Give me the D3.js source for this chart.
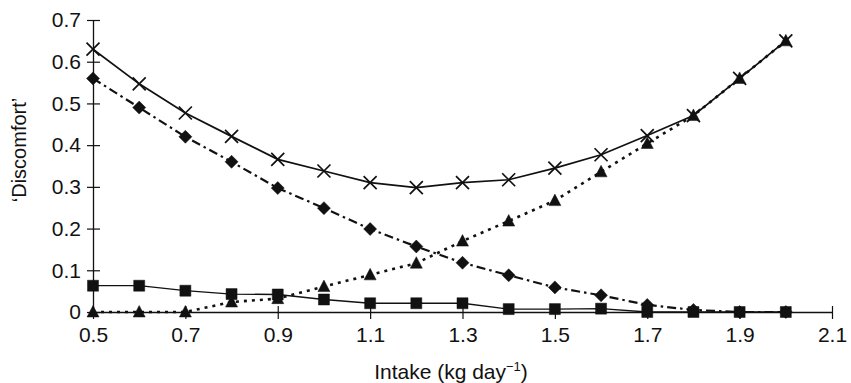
<!DOCTYPE html>
<html>
<head>
<meta charset="utf-8">
<script src="https://cdn.jsdelivr.net/npm/d3@7"></script>
<style>
  html, body { margin: 0; padding: 0; background: #fff; }
  svg { display: block; }
  text { font-family: "Liberation Sans", Arial, sans-serif; fill: #111; }
</style>
</head>
<body>
<svg id="chart" width="851" height="383"></svg>
<script>
// Intake levels (kg per day)
const intake = [0.5, 0.6, 0.7, 0.8, 0.9, 1.0, 1.1, 1.2, 1.3, 1.4, 1.5, 1.6, 1.7, 1.8, 1.9, 2.0];

// Discomfort components
const totalDiscomfort = [0.63, 0.547, 0.477, 0.421, 0.366, 0.338, 0.31, 0.298, 0.31, 0.317, 0.345, 0.377, 0.423, 0.471, 0.56, 0.65];
const hungerDiscomfort = [0.56, 0.49, 0.42, 0.36, 0.297, 0.249, 0.199, 0.157, 0.118, 0.088, 0.059, 0.04, 0.017, 0.005, 0, 0];
const satietyDiscomfort = [0, 0, 0, 0.024, 0.032, 0.061, 0.089, 0.117, 0.17, 0.218, 0.267, 0.336, 0.404, 0.471, 0.56, 0.65];
const otherDiscomfort = [0.063, 0.063, 0.051, 0.043, 0.042, 0.03, 0.021, 0.021, 0.021, 0.007, 0.007, 0.008, 0, 0, 0, 0];

// Axis ticks
const xTicks = [0.5, 0.7, 0.9, 1.1, 1.3, 1.5, 1.7, 1.9, 2.1];
const yTicks = [0, 0.1, 0.2, 0.3, 0.4, 0.5, 0.6, 0.7];

const svg = d3.select("#chart");

const x = d3.scaleLinear().domain([0.5, 2.1]).range([93, 832]);
const y = d3.scaleLinear().domain([0, 0.7]).range([312, 20]);

// Axes
const xAxis = d3.axisBottom(x)
  .tickValues(xTicks)
  .tickFormat(d3.format(".1f"))
  .tickSizeInner(7)
  .tickSizeOuter(0)
  .tickPadding(8);
const yAxis = d3.axisLeft(y)
  .tickValues(yTicks)
  .tickFormat(d => d === 0 ? "0" : d3.format(".1f")(d))
  .tickSizeInner(6)
  .tickSizeOuter(0)
  .tickPadding(6);

const gx = svg.append("g").attr("transform", `translate(0,${y(0)})`).call(xAxis);
const gy = svg.append("g").attr("transform", `translate(${x(0.5)},0)`).call(yAxis);

[gx, gy].forEach(g => {
  g.attr("font-size", 21);
  g.select(".domain").attr("stroke", "#111").attr("stroke-width", 1.3);
  g.selectAll(".tick line").attr("stroke", "#111").attr("stroke-width", 1.2);
  g.selectAll(".tick text")
    .attr("font-size", 21)
    .attr("fill", "#111")
    .style("font-family", "'Liberation Sans', Arial, sans-serif");
});
// y ticks cross the axis line
gy.selectAll(".tick line").attr("x1", 7);
// x ticks extend slightly above the axis line
gx.selectAll(".tick line").attr("y1", -6);

// Axis titles
const xTitle = svg.append("text")
  .attr("x", 451)
  .attr("y", 379)
  .attr("text-anchor", "middle")
  .attr("font-size", 21);
xTitle.append("tspan").text("Intake (kg day");
xTitle.append("tspan").attr("font-size", 13).attr("dy", -8).text("\u22121");
xTitle.append("tspan").attr("dy", 8).text(")");

svg.append("text")
  .attr("transform", "translate(26,150) rotate(-90)")
  .attr("text-anchor", "middle")
  .attr("font-size", 20)
  .text("\u2018Discomfort\u2019");

// Series lines
const line = d3.line().x(d => x(d[0])).y(d => y(d[1]));
const pts = vals => intake.map((v, i) => [v, vals[i]]);

const series = [
  { vals: otherDiscomfort, dash: null, width: 1.3, marker: "square" },
  { vals: hungerDiscomfort, dash: "9,4,2.5,4", width: 2.2, marker: "diamond" },
  { vals: satietyDiscomfort, dash: "3,5", width: 2.6, marker: "triangle" },
  { vals: totalDiscomfort, dash: null, width: 1.7, marker: "cross" }
];

series.forEach(s => {
  svg.append("path")
    .datum(pts(s.vals))
    .attr("d", line)
    .attr("fill", "none")
    .attr("stroke", "#111")
    .attr("stroke-width", s.width)
    .attr("stroke-dasharray", s.dash);
});

// Markers
const markerPath = {
  square: "M-5.5,-5.5H5.5V5.5H-5.5Z",
  diamond: "M0,-6.5L6.5,0L0,6.5L-6.5,0Z",
  triangle: "M0,-6.5L6,5L-6,5Z",
  cross: "M-6.5,-6.5L6.5,6.5M-6.5,6.5L6.5,-6.5"
};

series.forEach(s => {
  const g = svg.append("g");
  g.selectAll("path")
    .data(pts(s.vals))
    .join("path")
    .attr("transform", d => `translate(${x(d[0])},${y(d[1])})`)
    .attr("d", markerPath[s.marker])
    .attr("fill", s.marker === "cross" ? "none" : "#111")
    .attr("stroke", "#111")
    .attr("stroke-width", s.marker === "cross" ? 1.7 : 0.5);
});
</script>
</body>
</html>
